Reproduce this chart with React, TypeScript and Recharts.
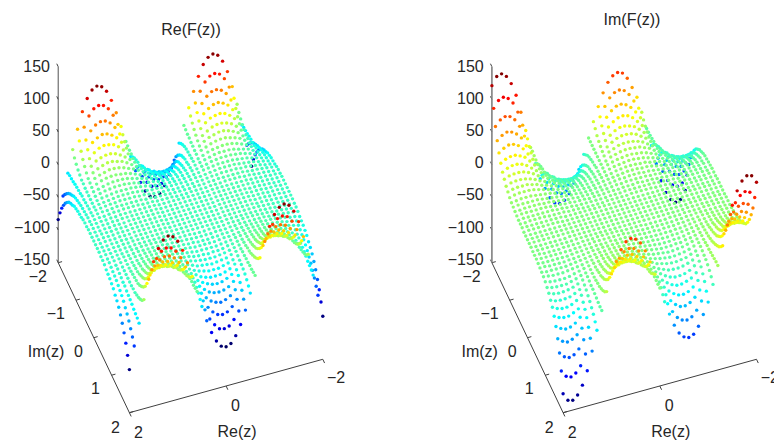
import React from "react";
import { ScatterChart, Scatter, XAxis, YAxis, ReferenceLine } from "recharts";

// Both surfaces are symmetric, so only the quadrant Re(z) 0..2, Im(z) 0..2 is kept.
// Each row is one Im(z) step, each column one Re(z) step.
const gridSteps = [0, 0.1, 0.2, 0.3, 0.4, 0.5, 0.6, 0.7, 0.8, 0.9, 1, 1.1, 1.2, 1.3, 1.4, 1.5, 1.6, 1.7, 1.8, 1.9, 2];

const reValues = [
    [0, 0, 0, 0, 0, 0, 1, 1, 1, 1, 1, 1, 1, 0, 0, 0, -1, -1, -1, -2, -2],
    [0, 0, 0, 0, 0, 0, 1, 1, 1, 1, 1, 1, 1, 0, 0, 0, -1, -1, -1, -2, -2],
    [0, 0, 0, 0, 0, 0, 1, 1, 1, 1, 1, 1, 1, 0, 0, 0, -1, -1, -2, -2, -2],
    [0, 0, 0, 0, 0, 0, 1, 1, 1, 1, 1, 1, 1, 1, 0, 0, -1, -1, -2, -2, -2],
    [0, 0, 0, 0, 0, 0, 1, 1, 1, 1, 1, 1, 1, 1, 0, 0, -1, -1, -2, -2, -3],
    [-1, -1, 0, 0, 0, 0, 1, 1, 1, 2, 2, 2, 2, 1, 1, 0, -1, -1, -2, -3, -3],
    [-1, -1, -1, 0, 0, 0, 1, 1, 2, 2, 2, 2, 2, 2, 1, 0, 0, -1, -2, -3, -4],
    [-2, -2, -1, -1, 0, 0, 1, 2, 2, 3, 3, 3, 3, 2, 2, 1, 0, -1, -3, -4, -6],
    [-2, -2, -2, -1, 0, 0, 1, 2, 3, 4, 4, 4, 4, 3, 2, 1, 0, -2, -3, -5, -7],
    [-3, -3, -3, -2, -1, 0, 2, 3, 4, 5, 5, 5, 5, 4, 3, 2, 0, -2, -4, -6, -8],
    [-5, -4, -4, -3, -1, 0, 2, 3, 5, 6, 7, 7, 7, 6, 5, 3, 1, -2, -5, -7, -10],
    [-6, -6, -5, -4, -2, 0, 2, 4, 6, 8, 9, 9, 9, 8, 6, 4, 2, -2, -6, -9, -12],
    [-9, -8, -7, -6, -3, 0, 2, 5, 8, 10, 11, 12, 12, 11, 9, 6, 3, -2, -6, -11, -16],
    [-12, -12, -10, -8, -5, -1, 3, 7, 10, 13, 15, 16, 16, 14, 12, 9, 4, -2, -8, -13, -19],
    [-16, -16, -14, -11, -6, -2, 3, 8, 13, 17, 19, 21, 21, 19, 16, 12, 5, -1, -9, -16, -23],
    [-22, -21, -18, -14, -9, -3, 4, 10, 16, 21, 25, 27, 27, 25, 22, 16, 8, -1, -10, -20, -29],
    [-29, -28, -25, -19, -12, -4, 4, 13, 21, 28, 33, 35, 36, 34, 29, 22, 12, 1, -11, -24, -36],
    [-39, -37, -33, -26, -17, -6, 5, 16, 27, 36, 42, 46, 47, 44, 39, 30, 17, 3, -13, -29, -45],
    [-52, -50, -44, -35, -23, -9, 5, 20, 34, 46, 55, 60, 61, 58, 51, 39, 24, 6, -14, -35, -55],
    [-68, -66, -58, -47, -31, -13, 6, 25, 43, 59, 71, 78, 80, 77, 68, 53, 34, 10, -15, -42, -68],
    [-90, -87, -77, -62, -42, -18, 7, 32, 55, 76, 92, 101, 104, 100, 89, 71, 46, 17, -17, -50, -84],
];

const imValues = [
    [0, 0, 0, 0, 0, 0, 0, 0, 0, 0, 0, 0, 0, 0, 0, 0, 0, 0, 0, 0, 0],
    [0, 0, 0, 0, 0, 0, 0, 0, 0, 0, 0, 0, 0, 0, 0, 0, 0, 0, 0, 0, 0],
    [0, 0, 0, 0, 0, 0, 0, 0, 0, 0, 0, 0, 0, -1, -1, -1, -1, -1, -1, -1, 0],
    [0, 0, 0, 0, 0, 0, 0, 0, 0, 0, 0, 0, -1, -1, -1, -1, -1, -1, -1, -1, -1],
    [0, 0, 0, 1, 1, 1, 1, 1, 0, 0, 0, -1, -1, -1, -1, -2, -2, -2, -2, -1, -1],
    [0, 0, 1, 1, 1, 1, 1, 1, 1, 0, 0, -1, -1, -2, -2, -2, -2, -2, -2, -2, -1],
    [0, 0, 1, 1, 1, 2, 1, 1, 1, 0, 0, -1, -1, -2, -3, -3, -3, -3, -3, -3, -2],
    [0, 1, 1, 2, 2, 2, 2, 2, 1, 1, 0, -1, -2, -3, -3, -4, -4, -4, -4, -3, -3],
    [0, 1, 2, 2, 3, 3, 3, 2, 2, 1, 0, -1, -2, -3, -4, -5, -5, -5, -5, -5, -4],
    [0, 1, 2, 3, 4, 4, 4, 3, 3, 2, 0, -1, -3, -4, -5, -6, -7, -7, -7, -6, -5],
    [0, 1, 3, 4, 5, 5, 5, 4, 4, 2, 1, -1, -3, -5, -7, -9, -10, -10, -10, -9, -7],
    [0, 2, 4, 5, 6, 7, 7, 6, 5, 3, 1, -1, -4, -6, -9, -11, -13, -13, -13, -12, -10],
    [0, 3, 5, 7, 8, 9, 9, 8, 7, 5, 2, -1, -4, -7, -11, -14, -16, -17, -17, -16, -13],
    [0, 3, 7, 9, 11, 12, 12, 11, 10, 7, 4, -1, -5, -9, -14, -18, -21, -22, -22, -21, -18],
    [0, 5, 9, 12, 15, 16, 16, 15, 13, 10, 5, 0, -6, -11, -17, -23, -27, -29, -29, -27, -23],
    [0, 6, 11, 16, 20, 22, 22, 21, 18, 13, 8, 1, -6, -14, -22, -30, -34, -37, -37, -35, -31],
    [0, 8, 15, 21, 26, 29, 29, 27, 24, 18, 11, 2, -7, -17, -27, -37, -44, -48, -49, -46, -41],
    [0, 10, 20, 28, 34, 38, 39, 37, 32, 24, 16, 4, -8, -21, -34, -48, -56, -61, -63, -60, -54],
    [0, 13, 26, 37, 45, 50, 51, 48, 42, 33, 22, 7, -9, -25, -43, -60, -72, -79, -81, -78, -70],
    [0, 18, 34, 48, 59, 65, 67, 64, 56, 44, 31, 11, -10, -31, -54, -76, -92, -101, -105, -102, -92],
    [0, 23, 44, 63, 77, 85, 88, 85, 75, 59, 42, 17, -10, -38, -68, -96, -116, -129, -135, -133, -121],
];

const zTicks = [150, 100, 50, 0, -50, -100, -150];
const imTicks = [-2, -1, 0, 1, 2];
const reTicks = [2, 0, -2];

const FONT = "'Liberation Sans', Arial, sans-serif";

const project = (cx: number, re: number, im: number, z: number) => ({
    px: cx - 48.35 * re + 17.8 * im,
    py: 213 + 13.35 * re + 37.5 * im - 0.6533 * z,
});

const jet = (t: number) => {
    const c = (v: number) => Math.round(255 * Math.min(1, Math.max(0, 1.5 - Math.abs(4 * t - v))));
    return `rgb(${c(3)},${c(2)},${c(1)})`;
};

const buildPoints = (cx: number, table: number[][], odd: boolean, min: number, max: number) => {
    const signed = [...gridSteps.slice(1).reverse().map((v) => -v), ...gridSteps];
    const points: any[] = [];
    signed.forEach((im) => {
        signed.forEach((re) => {
            const row = table[gridSteps.indexOf(Math.abs(im))];
            let z = row[gridSteps.indexOf(Math.abs(re))];
            if (odd) z = z * Math.sign(re) * Math.sign(im);
            points.push({ ...project(cx, re, im, z), color: jet((z - min) / (max - min)) });
        });
    });
    return points;
};

const Dot = (props: any) => <circle cx={props.cx} cy={props.cy} r={1.7} fill={props.payload.color} />;

const Label = (props: any) => (
    <text
        x={props.cx}
        y={props.cy}
        textAnchor={props.payload.anchor}
        dominantBaseline="central"
        fontFamily={FONT}
        fontSize={16}
        fill="#262626"
    >
        {props.payload.text}
    </text>
);

const fmt = (v: number) => (v < 0 ? `\u2212${-v}` : `${v}`);

const buildLabels = (cx: number, title: string, titleY: number, titleX: number) => {
    const dx = cx - 190.5;
    const imLabelX = [47, 65, 83, 100, 120];
    const imLabelY = [276, 313, 351, 388, 427];
    const reLabelX = [134, 231, 327];
    const reLabelY = [432, 405, 377];
    return [
        { px: titleX, py: titleY, text: title, anchor: "middle" },
        ...zTicks.map((v, i) => ({ px: 50 + dx, py: 66 + i * 32.2, text: fmt(v), anchor: "end" })),
        ...imTicks.map((v, i) => ({ px: imLabelX[i] + dx, py: imLabelY[i], text: fmt(v), anchor: "end" })),
        ...reTicks.map((v, i) => ({ px: reLabelX[i] + dx, py: reLabelY[i], text: fmt(v), anchor: "start" })),
        { px: 46 + dx, py: 351, text: "Im(z)", anchor: "middle" },
        { px: 237 + dx, py: 431, text: "Re(z)", anchor: "middle" },
    ];
};

const buildAxes = (cx: number) => {
    const seg = (a: any, b: any) => [
        { x: a.px, y: a.py },
        { x: b.px, y: b.py },
    ];
    const lines: any[] = [
        seg(project(cx, 2, -2, -150), project(cx, 2, 2, -150)),
        seg(project(cx, 2, 2, -150), project(cx, -2, 2, -150)),
    ];
    zTicks.forEach((v) => lines.push(seg(project(cx, 2, -2, v), project(cx, 2, -2.08, v))));
    imTicks.forEach((v) => lines.push(seg(project(cx, 2, v, -150), project(cx, 1.92, v, -150))));
    reTicks.forEach((v) => lines.push(seg(project(cx, v, 2, -150), project(cx, v, 2.1, -150))));
    return lines;
};

const zAxis = (cx: number) => [
    { x: project(cx, 2, -2, -150).px, y: project(cx, 2, -2, -150).py },
    { x: project(cx, 2, -2, 150).px, y: project(cx, 2, -2, 150).py },
];

const LEFT_CX = 190.5;
const RIGHT_CX = 624.2;

const rePoints = buildPoints(LEFT_CX, reValues, false, -84, 105);
const imPoints = buildPoints(RIGHT_CX, imValues, true, -135, 135);
const labels = [...buildLabels(LEFT_CX, "Re(F(z))", 29, 191), ...buildLabels(RIGHT_CX, "Im(F(z))", 19, 632)];
const axes = [...buildAxes(LEFT_CX), ...buildAxes(RIGHT_CX)];

const App = () => (
    <div style={{ position: "absolute", left: 0, top: 0, width: 774, height: 440, overflow: "hidden", background: "#fff" }}>
        <ScatterChart width={774} height={440} margin={{ top: 0, right: 0, bottom: 0, left: 0 }}>
            <XAxis type="number" dataKey="px" domain={[0, 774]} hide />
            <YAxis type="number" dataKey="py" domain={[0, 440]} reversed hide />
            {axes.map((segment, i) => (
                <ReferenceLine key={i} segment={segment} stroke="#404040" strokeWidth={1} ifOverflow="visible" />
            ))}
            <ReferenceLine segment={zAxis(LEFT_CX)} stroke="#505050" strokeWidth={1} ifOverflow="visible" />
            <ReferenceLine segment={zAxis(RIGHT_CX)} stroke="#808080" strokeWidth={1.6} ifOverflow="visible" />
            <Scatter data={rePoints} shape={Dot} isAnimationActive={false} />
            <Scatter data={imPoints} shape={Dot} isAnimationActive={false} />
            <Scatter data={labels} shape={Label} isAnimationActive={false} />
        </ScatterChart>
    </div>
);

export default App;
